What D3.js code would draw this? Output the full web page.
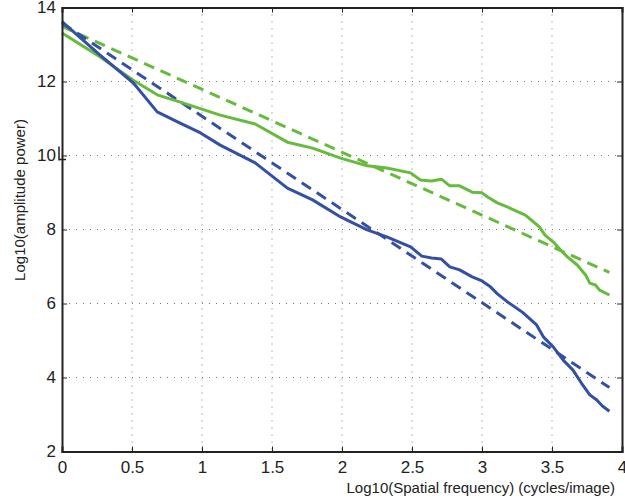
<!DOCTYPE html>
<html>
<head>
<meta charset="utf-8">
<script src="https://cdn.jsdelivr.net/npm/d3@7"></script>
<style>
  body { margin: 0; background: #fff; }
  svg text { font-family: "Liberation Sans", Arial, sans-serif; fill: #222; }
</style>
</head>
<body>
<svg id="chart" width="625" height="500"></svg>
<script>
// x: log10 spatial frequency, y: log10 amplitude power
var greenX = [0, 0.25, 0.507, 0.68, 0.84, 1.13, 1.38, 1.61, 1.79, 1.99, 2.18, 2.32, 2.49, 2.56, 2.64, 2.71, 2.77, 2.84, 2.93, 3.0, 3.04, 3.11, 3.18, 3.31, 3.36, 3.41, 3.45, 3.51, 3.56, 3.61, 3.68, 3.74, 3.77, 3.81, 3.84, 3.91];
var greenY = [13.31, 12.72, 12.04, 11.64, 11.45, 11.09, 10.85, 10.36, 10.2, 9.93, 9.72, 9.66, 9.53, 9.34, 9.31, 9.36, 9.18, 9.18, 9.01, 8.99, 8.88, 8.72, 8.61, 8.39, 8.23, 8.07, 7.85, 7.66, 7.45, 7.26, 7.04, 6.77, 6.55, 6.5, 6.36, 6.23];

var blueX = [0, 0.27, 0.51, 0.68, 0.84, 0.99, 1.13, 1.38, 1.61, 1.79, 1.99, 2.18, 2.32, 2.49, 2.57, 2.64, 2.71, 2.77, 2.84, 2.93, 3.0, 3.06, 3.11, 3.18, 3.29, 3.39, 3.44, 3.51, 3.58, 3.65, 3.71, 3.77, 3.82, 3.86, 3.91];
var blueY = [13.62, 12.72, 11.96, 11.18, 10.88, 10.61, 10.28, 9.8, 9.12, 8.8, 8.34, 7.99, 7.8, 7.53, 7.28, 7.23, 7.2, 6.99, 6.91, 6.72, 6.61, 6.45, 6.26, 6.05, 5.76, 5.42, 5.09, 4.82, 4.47, 4.2, 3.85, 3.53, 3.39, 3.23, 3.09];

// linear fits (dashed)
var greenFitX = [0, 3.91];
var greenFitY = [13.49, 6.84];
var blueFitX = [0, 3.91];
var blueFitY = [13.58, 3.73];

var xTicks = [0, 0.5, 1, 1.5, 2, 2.5, 3, 3.5, 4];
var yTicks = [2, 4, 6, 8, 10, 12, 14];

var svg = d3.select("#chart");
var margin = { left: 62, top: 7.5, right: 3, bottom: 48.5 };
var width = 625 - margin.left - margin.right,
    height = 500 - margin.top - margin.bottom;

var x = d3.scaleLinear().domain([0, 4]).range([0, width]);
var y = d3.scaleLinear().domain([2, 14]).range([height, 0]);

var g = svg.append("g").attr("transform", "translate(" + margin.left + "," + margin.top + ")");

// dotted grid
g.append("g").selectAll("line").data(xTicks.slice(1, -1)).enter().append("line")
  .attr("x1", function(d) { return x(d); }).attr("x2", function(d) { return x(d); })
  .attr("y1", 0).attr("y2", height)
  .attr("stroke", "#777").attr("stroke-width", 1).attr("stroke-dasharray", "1,6");
g.append("g").selectAll("line").data(yTicks.slice(1, -1)).enter().append("line")
  .attr("y1", function(d) { return y(d); }).attr("y2", function(d) { return y(d); })
  .attr("x1", 0).attr("x2", width)
  .attr("stroke", "#777").attr("stroke-width", 1).attr("stroke-dasharray", "1,6");

function zip(xs, ys) {
  return xs.map(function(v, i) { return [v, ys[i]]; });
}
var line = d3.line().x(function(d) { return x(d[0]); }).y(function(d) { return y(d[1]); });

var blue = "#3350a3", green = "#66bb3c";

g.append("path").datum(zip(greenFitX, greenFitY)).attr("d", line)
  .attr("fill", "none").attr("stroke", green).attr("stroke-width", 3).attr("stroke-dasharray", "11,7");
g.append("path").datum(zip(blueFitX, blueFitY)).attr("d", line)
  .attr("fill", "none").attr("stroke", blue).attr("stroke-width", 3).attr("stroke-dasharray", "11,7");
g.append("path").datum(zip(greenX, greenY)).attr("d", line)
  .attr("fill", "none").attr("stroke", green).attr("stroke-width", 3).attr("stroke-linejoin", "round");
g.append("path").datum(zip(blueX, blueY)).attr("d", line)
  .attr("fill", "none").attr("stroke", blue).attr("stroke-width", 3).attr("stroke-linejoin", "round");

// axes, ticks inward on all four sides
var axBottom = g.append("g").attr("transform", "translate(0," + height + ")")
  .call(d3.axisBottom(x).tickValues(xTicks).tickSize(-5).tickPadding(9).tickFormat(d3.format("")));
var axLeft = g.append("g")
  .call(d3.axisLeft(y).tickValues(yTicks).tickSize(-5).tickPadding(6).tickFormat(d3.format("")));
var axTop = g.append("g")
  .call(d3.axisTop(x).tickValues(xTicks).tickSize(-5).tickFormat(""));
var axRight = g.append("g").attr("transform", "translate(" + width + ",0)")
  .call(d3.axisRight(y).tickValues(yTicks).tickSize(-5).tickFormat(""));

[axBottom, axLeft, axTop, axRight].forEach(function(a) {
  a.select(".domain").attr("stroke", "#222").attr("stroke-width", 2);
  a.selectAll(".tick line").attr("stroke", "#222").attr("stroke-width", 1);
  a.selectAll("text").attr("font-size", 17).attr("fill", "#222")
    .attr("font-family", "Liberation Sans, Arial, sans-serif");
});
axBottom.selectAll("text").attr("dy", "0.71em");

// small stray mark next to the "10" label
g.append("path")
  .attr("d", "M" + (-3) + "," + (y(10) - 9) + "V" + (y(10) + 5) + "M-3," + (y(10) + 4) + "H4")
  .attr("fill", "none").attr("stroke", "#222").attr("stroke-width", 1.5);

svg.append("text")
  .attr("x", 615).attr("y", 493)
  .attr("text-anchor", "end")
  .attr("font-size", 15)
  .text("Log10(Spatial frequency) (cycles/image)");

svg.append("text")
  .attr("transform", "translate(25,200) rotate(-90)")
  .attr("text-anchor", "middle")
  .attr("font-size", 15)
  .text("Log10(amplitude power)");
</script>
</body>
</html>
